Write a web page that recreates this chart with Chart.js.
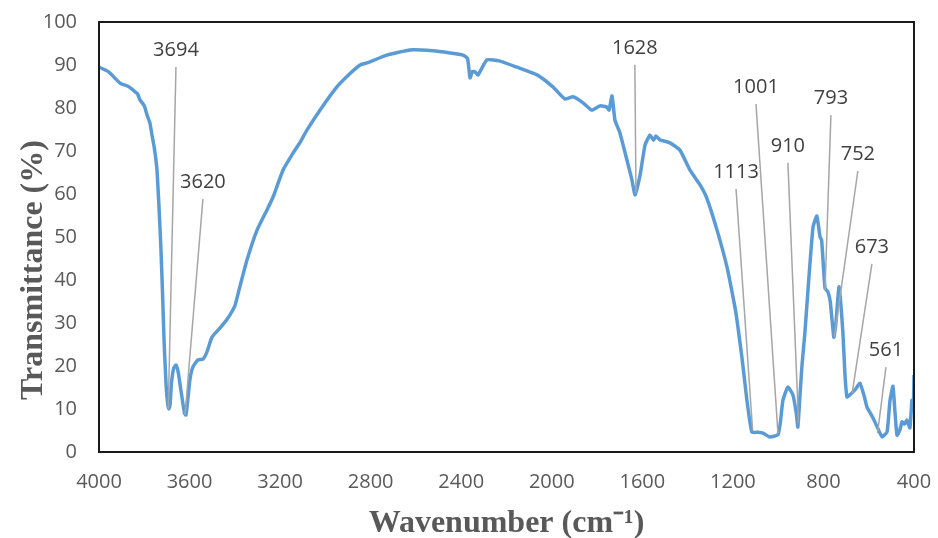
<!DOCTYPE html>
<html>
<head>
<meta charset="utf-8">
<script src="https://cdn.jsdelivr.net/npm/chart.js@4/dist/chart.umd.min.js"></script>
<style>
body{margin:0;background:#fff}
#wrap{width:938px;height:538px}
</style>
</head>
<body>
<div id="wrap"><canvas id="irChart" width="938" height="538"></canvas></div>
<script>
// FTIR spectrum
const wavenumber = [4000,3960,3907,3870,3850,3830,3819,3800,3788,3775,3766,3755,3744,3735,3727,3720,3712,3703,3696,3691,3686,3680,3670,3660,3650,3640,3630,3622,3616,3608,3598,3585,3563,3541,3523,3501,3466,3435,3400,3380,3346,3302,3258,3231,3187,3143,3112,3081,3024,2949,2891,2847,2816,2728,2626,2525,2450,2392,2372,2361,2350,2339,2326,2286,2229,2154,2065,1995,1942,1906,1862,1823,1787,1756,1747,1734,1721,1699,1668,1646,1632,1610,1588,1566,1550,1540,1522,1478,1434,1390,1345,1315,1270,1226,1191,1182,1160,1138,1116,1090,1067,1037,1001,990,979,957,935,920,913,905,895,882,865,846,829,815,808,793,780,770,754,745,731,714,705,696,683,660,639,620,608,581,560,541,519,506,493,485,475,463,453,442,431,418,409,403,400]
const transmittance = [89.5,88.5,85.8,85.0,84.2,83.3,81.9,80.5,78.4,76.5,73.7,70.5,65.6,57,48,38,25,15,11,10.0,11,16,19.5,20.2,18.5,15,11.5,9.0,8.6,12,17,19.8,21.4,21.6,23.3,26.7,28.8,30.8,34,38,44.7,51.6,56.3,59.3,65.6,69.5,72,74.9,79.5,84.9,88.0,90,90.5,92.3,93.5,93.3,92.8,92.3,91.5,87.0,88.5,88.4,87.7,91.2,90.9,89.5,87.7,84.9,82.1,82.6,81.2,79.5,80.5,80.2,79.5,82.8,77.2,74.2,67.9,63.3,59.8,64.4,71.4,73.7,72.5,73.5,72.6,71.9,70.2,65.6,62.1,59,51.6,43,33.7,30.7,22,12,4.6,4.6,4.4,3.5,4.0,7,12,15.1,13.3,9,5.8,12,20,27.7,40,52.3,54.9,50,49.3,38.1,37.2,35,26.7,30,38.4,27.7,18,12.8,13.3,14.5,16.0,13,10.5,7.9,5.5,3.5,4.7,12,15.3,10,3.9,5,7,6.5,7.4,5.6,12,10,17.9]

const xTicks = [4000,3600,3200,2800,2400,2000,1600,1200,800,400]

// peak annotations
const peakLabels = ["3694","3620","1628","1113","1001","910","793","752","673","561"]
const peakWave = [3694,3620,1628,1113,1001,910,793,752,673,561]
const peakValue = [10.0,8.6,60.2,5.1,4.4,6.7,37.7,26.7,13.7,4.4]
const labelWave = [3660,3541,1633,1186,1098,957,767,648,586,524]
const labelValue = [93.5,62.8,94,65.1,84.9,71.2,82.3,69.3,47.7,23.7]

const points = wavenumber.map((w,i)=>({x:w,y:transmittance[i]}))

const extras = {
id:"extras",
afterDatasetsDraw(chart){
const c = chart.ctx
const xs = chart.scales.x
const ys = chart.scales.y
c.save()
c.font = "20px 'Open Sans'"
c.textAlign = "center"
c.textBaseline = "middle"
for(let i=0;i<peakLabels.length;i++){
const lx = xs.getPixelForValue(labelWave[i])
const ly = ys.getPixelForValue(labelValue[i])
c.strokeStyle = "#a6a6a6"
c.lineWidth = 1.5
c.beginPath()
c.moveTo(lx, ly+17)
c.lineTo(xs.getPixelForValue(peakWave[i]), ys.getPixelForValue(peakValue[i]))
c.stroke()
c.fillStyle = "#404040"
c.fillText(peakLabels[i], lx, ly)
}
// plot frame
const a = chart.chartArea
c.strokeStyle = "#1a1a1a"
c.lineWidth = 2
c.strokeRect(a.left, a.top, a.right-a.left, a.bottom-a.top)
// axis titles
c.fillStyle = "#595959"
c.font = "bold 32px 'Liberation Serif'"
c.textBaseline = "alphabetic"
c.fillText("Wavenumber (cm\u207B\u00B9)", (a.left+a.right)/2, 532)
c.translate(42, 270)
c.rotate(-Math.PI/2)
c.fillText("Transmittance (%)", 0, 0)
c.restore()
}
}

new Chart(document.getElementById("irChart"),{
type:"line",
data:{
datasets:[{
data:points,
borderColor:"#5b9bd5",
borderWidth:3.5,
pointRadius:0,
tension:0.15,
fill:false
}]
},
options:{
responsive:false,
animation:false,
layout:{padding:{top:22,right:24,left:0,bottom:0}},
plugins:{legend:{display:false},tooltip:{enabled:false}},
scales:{
x:{
type:"linear",
reverse:true,
min:400,
max:4000,
afterBuildTicks(s){ s.ticks = xTicks.map(v=>({value:v})) },
afterFit(s){ s.height = 86; s.paddingLeft = 0; s.paddingRight = 0 },
grid:{display:false,drawTicks:false},
border:{display:false},
ticks:{color:"#595959",font:{family:"'Open Sans'",size:20},padding:18,maxRotation:0,autoSkip:false,callback:v=>String(v)}
},
y:{
min:0,
max:100,
afterFit(s){ s.width = 99; s.paddingTop = 0; s.paddingBottom = 0 },
grid:{display:false,drawTicks:false},
border:{display:false},
ticks:{stepSize:10,color:"#595959",font:{family:"'Open Sans'",size:20},padding:22}
}
}
},
plugins:[extras]
})
</script>
</body>
</html>
